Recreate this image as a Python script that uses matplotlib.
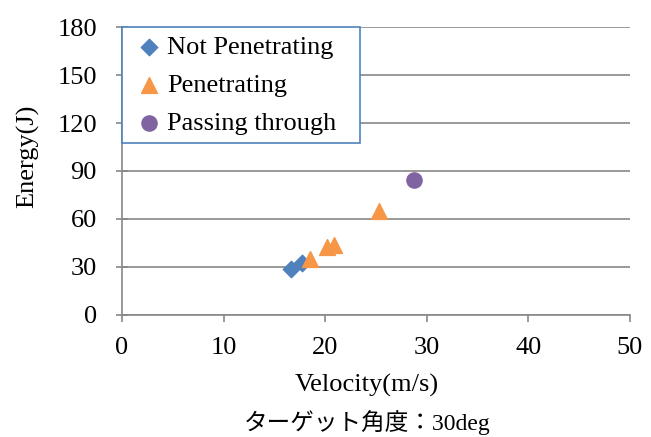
import matplotlib
matplotlib.use("Agg")
from matplotlib import pyplot as plt
import numpy as np

plt.rcParams['font.family'] = ['Liberation Serif', 'Noto Sans CJK JP']

# velocity (m/s), energy (J)
not_pen_v = [16.6, 17.7]
not_pen_e = [28.5, 32.5]
pen_v = [18.5, 20.2, 20.9, 25.3]
pen_e = [35.0, 42.5, 44.0, 65.0]
pass_v = [28.7]
pass_e = [84.5]

x_ticks = np.arange(0, 51, 10)
y_ticks = np.arange(0, 181, 30)

fig = plt.figure(figsize=(6.51, 4.37), dpi=100)
ax = fig.add_axes([0.1874, 0.2792, 0.7803, 0.659])

ax.scatter(not_pen_v, not_pen_e, marker='D', s=70, color='#4F81BD', label='Not Penetrating', zorder=3)
ax.scatter(pen_v, pen_e, marker='^', s=130, color='#F79646', label='Penetrating', zorder=3)
ax.scatter(pass_v, pass_e, marker='o', s=120, color='#8064A2', label='Passing through', zorder=3)

ax.set_xlim(0, 50)
ax.set_ylim(0, 180)
ax.set_xticks(x_ticks)
ax.set_yticks(y_ticks)
ax.yaxis.grid(True, color='#888888', linewidth=1.2)
ax.set_axisbelow(True)
for s in ['top', 'right']:
    ax.spines[s].set_visible(False)
for s in ['left', 'bottom']:
    ax.spines[s].set_color('#888888')
    ax.spines[s].set_linewidth(1.2)
ax.tick_params(axis='both', labelsize=19, color='#888888', width=1.2)
ax.tick_params(axis='y', direction='inout', length=8, pad=14)
ax.tick_params(axis='x', direction='out', length=5, pad=11)

fig.text(0.043, 0.642, 'Energy(J)', fontsize=19, rotation=90, ha='center', va='center')
fig.text(0.564, 0.119, 'Velocity(m/s)', fontsize=19, ha='center', va='center')
fig.text(0.564, 0.034, 'ターゲット角度：30deg', fontsize=17, ha='center', va='center')

leg = ax.legend(loc='upper left', bbox_to_anchor=(0, 0, 0.4685, 1.0), mode='expand',
                fontsize=19, frameon=True, fancybox=False, handletextpad=0.0,
                borderpad=0.32, labelspacing=0.55, handlelength=1.4,
                borderaxespad=0, framealpha=1)
leg.get_frame().set_edgecolor('#4F81BD')
leg.get_frame().set_linewidth(1.2)

fig.savefig('out.png', dpi=100)
